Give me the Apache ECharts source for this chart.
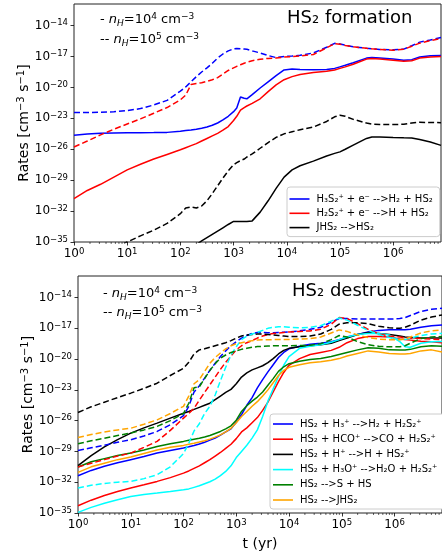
<!DOCTYPE html>
<html><head><meta charset="utf-8">
<script src="https://cdn.jsdelivr.net/npm/echarts@6/dist/echarts.min.js"></script>
<style>html,body{margin:0;padding:0;background:#fff}#c{width:442px;height:559px}</style>
</head><body><div id="c"></div>
<script>
// ---- data: log10(t / yr) grids and log10(rate / cm^-3 s^-1) values ----
const logTimeTop = [0,0.25,0.5,0.75,1,1.25,1.5,1.75,2, 2.1,2.2,2.3,2.4,2.5,2.6,2.7,2.8,2.9, 3.0,3.06,3.13,3.2,3.25,3.35, 3.5,3.65,3.8,3.95, 4.1,4.25,4.5,4.75, 4.9,5.0,5.1,5.25, 5.5,5.6,5.75, 6.0,6.2,6.35,6.5,6.7,6.9];
const formH3S2_n4 = [-24.64,-24.52,-24.44,-24.41,-24.40,-24.39,-24.38,-24.36,-24.24, -24.18,-24.12,-24.05,-23.95,-23.83,-23.67,-23.45,-23.15,-22.8, -22.35,-22.0,-20.92,-21.05,-21.1,-20.7, -20.05,-19.45,-18.85,-18.3, -18.22,-18.25,-18.27,-18.26, -18.15,-18.0,-17.85,-17.6, -17.15,-17.1,-17.15, -17.25,-17.35,-17.3,-17.05,-16.93,-16.9];
const formH2S2_n4 = [-30.79,-30.0,-29.4,-28.7,-28.0,-27.45,-26.95,-26.5,-26.05, -25.85,-25.65,-25.45,-25.2,-24.95,-24.7,-24.45,-24.15,-23.8, -23.2,-22.8,-22.2,-21.95,-21.8,-21.55, -21.1,-20.4,-19.75,-19.25, -18.95,-18.75,-18.55,-18.42, -18.3,-18.15,-18.0,-17.75, -17.25,-17.2,-17.25, -17.35,-17.45,-17.4,-17.15,-17.05,-17.0];
const formJHS2_n4 = [null,null,null,null,null,null,null,null,null, null,null,-35.25,-34.9,-34.58,-34.26,-33.94,-33.62,-33.3, -33.0,-33.0,-33.0,-33.0,-33.0,-32.95, -32.1,-31.0,-29.8,-28.7, -28.0,-27.6,-27.15,-26.65, -26.4,-26.25,-26.0,-25.6, -24.95,-24.8,-24.8, -24.85,-24.88,-24.9,-25.05,-25.3,-25.62];
const formH3S2_n5 = [-22.44,-22.43,-22.41,-22.36,-22.25,-22.05,-21.7,-21.25,-20.35, -19.95,-19.45,-18.95,-18.5,-18.1,-17.65,-17.15,-16.75,-16.45, -16.25,-16.22,-16.24,-16.27,-16.3,-16.45, -16.65,-16.9,-17.1,-17.0, -16.95,-16.88,-16.65,-16.1, -15.72,-15.78,-15.9,-16.05, -16.2,-16.25,-16.32, -16.35,-16.28,-15.95,-15.6,-15.4,-15.15];
const formH2S2_n5 = [-25.78,-25.2,-24.6,-24.05,-23.55,-23.05,-22.5,-21.95,-21.2, -20.75,-19.72,-19.62,-19.55,-19.4,-19.25,-19.05,-18.7,-18.35, -18.1,-17.95,-17.8,-17.65,-17.55,-17.4, -17.26,-17.18,-17.14,-17.05, -17.0,-16.95,-16.8,-16.15, -15.75,-15.8,-15.92,-16.05, -16.2,-16.25,-16.32, -16.38,-16.3,-16.0,-15.7,-15.45,-15.25];
const formJHS2_n5 = [null,null,null,-35.6,-35.0,-34.4,-33.85,-33.2,-32.25, -31.7,-31.6,-31.7,-31.5,-31.0,-30.3,-29.55,-28.8,-28.1, -27.5,-27.3,-27.1,-26.95,-26.75,-26.45, -25.9,-25.35,-24.85,-24.5, -24.3,-24.1,-23.85,-23.3, -22.85,-22.7,-22.8,-23.1, -23.45,-23.55,-23.6, -23.6,-23.57,-23.45,-23.38,-23.4,-23.42];

const logTimeBot = [0,0.25,0.5,0.75,1,1.25,1.5,1.75,2, 2.1,2.2,2.3,2.4,2.5,2.6,2.7,2.8,2.9, 3.0,3.1,3.2,3.3,3.4,3.5,3.6,3.7,3.8,3.9, 4.0, 4.2,4.4,4.6,4.8, 4.95, 5.1,5.3,5.5,5.7,5.9, 6.1,6.2,6.3,6.5,6.7,6.9];
const destH3_n4 = [-31.37,-30.85,-30.45,-30.1,-29.8,-29.5,-29.16,-28.9,-28.67, -28.55,-28.42,-28.28,-28.1,-27.9,-27.7,-27.4,-27.1,-26.8, -26.15,-25.4,-24.5,-23.75,-22.8,-22.0,-21.25,-20.55,-19.85,-19.35, -19.0, -18.75,-18.55,-18.45,-18.3, -18.1, -17.85,-17.6,-17.35,-17.2,-17.15, -17.15,-17.15,-17.1,-16.9,-16.75,-16.67];
const destHCO_n4 = [-34.29,-33.75,-33.3,-32.9,-32.57,-32.25,-31.92,-31.55,-31.11, -30.9,-30.65,-30.4,-30.1,-29.8,-29.45,-29.1,-28.7,-28.3, -27.75,-27.1,-26.7,-26.2,-25.7,-25.0,-24.2,-23.2,-22.2,-21.3, -20.6, -19.95,-19.55,-19.35,-19.15, -18.85, -18.4,-18.0,-17.8,-17.8,-17.85, -18.05,-18.1,-18.15,-18.25,-18.3,-18.4];
const destHp_n4 = [-30.39,-29.4,-28.55,-27.85,-27.21,-26.7,-26.24,-25.75,-25.27, -25.1,-24.9,-24.7,-24.5,-24.3,-23.95,-23.6,-23.25,-22.95, -22.4,-21.75,-21.35,-21.05,-20.85,-20.65,-20.35,-19.95,-19.5,-19.15, -18.95, -18.8,-18.7,-18.6,-18.45, -18.2, -17.95,-17.6,-17.4,-17.5,-17.6, -17.75,-17.85,-17.9,-17.95,-17.95,-17.95];
const destH3O_n4 = [-34.94,-34.45,-34.05,-33.7,-33.39,-33.2,-33.06,-32.9,-32.73, -32.65,-32.5,-32.35,-32.15,-31.95,-31.7,-31.35,-30.95,-30.4, -29.6,-29.0,-28.4,-27.7,-26.9,-25.6,-24.1,-22.9,-21.7,-20.6, -19.75, -18.95,-18.75,-18.6,-18.35, -18.1, -17.85,-17.6,-17.5,-17.5,-17.65, -18.3,-18.8,-18.85,-18.45,-18.3,-18.28];
const destSHS_n4 = [-30.52,-30.0,-29.7,-29.4,-29.16,-28.85,-28.52,-28.25,-28.02, -27.92,-27.82,-27.72,-27.6,-27.45,-27.25,-27.05,-26.8,-26.5, -25.95,-25.1,-24.55,-24.1,-23.7,-23.2,-22.55,-21.9,-21.2,-20.75, -20.45, -20.2,-20.05,-19.95,-19.75, -19.55, -19.35,-19.1,-18.9,-18.95,-19.1, -19.12,-19.12,-19.05,-18.8,-18.7,-18.75];
const destJHS2_n4 = [-31.04,-30.5,-30.15,-29.8,-29.55,-29.2,-28.85,-28.6,-28.41, -28.3,-28.2,-28.08,-27.95,-27.8,-27.6,-27.38,-27.1,-26.75, -26.2,-25.6,-25.1,-24.6,-24.15,-23.6,-23.0,-22.3,-21.6,-21.1, -20.8, -20.55,-20.35,-20.25,-20.12, -19.95, -19.7,-19.45,-19.2,-19.3,-19.45, -19.5,-19.5,-19.45,-19.2,-19.1,-19.3];
const destH3_n5 = [-28.9,-28.65,-28.4,-28.1,-27.86,-27.5,-27.05,-26.4,-25.5, -24.6,-23.2,-22.6,-21.85,-21.1,-20.4,-19.75,-19.2,-18.7, -18.3,-17.95,-17.7,-17.5,-17.4,-17.4,-17.42,-17.42,-17.4,-17.38, -17.35, -17.25,-17.1,-16.9,-16.4, -16.05, -16.05,-16.1,-16.1,-16.1,-16.1, -16.05,-15.95,-15.75,-15.35,-15.15,-15.04];
const destHCO_n5 = [-30.52,-30.15,-29.8,-29.45,-29.16,-28.6,-28.02,-26.95,-25.75, -25.3,-24.8,-24.0,-23.25,-22.5,-21.75,-21.0,-20.3,-19.7, -19.1,-18.7,-18.4,-18.2,-17.95,-17.75,-17.6,-17.5,-17.45,-17.4, -17.35, -17.3,-17.25,-17.1,-16.6, -15.95, -16.05,-16.55,-17.1,-17.55,-17.75, -17.85,-17.9,-17.95,-18.0,-18.05,-18.1];
const destHp_n5 = [-25.2,-24.65,-24.2,-23.75,-23.32,-22.85,-22.35,-21.6,-20.9, -20.3,-19.5,-19.1,-19.0,-18.85,-18.7,-18.55,-18.4,-18.2, -17.95,-17.75,-17.65,-17.6,-17.55,-17.55,-17.6,-17.65,-17.7,-17.75, -17.8, -17.8,-17.75,-17.55,-17.1, -16.6, -16.45,-16.45,-16.55,-16.8,-16.95, -17.0,-16.9,-16.7,-16.2,-15.9,-15.7];
const destH3O_n5 = [-32.57,-32.3,-32.12,-32.0,-31.92,-31.65,-31.27,-30.5,-29.2, -28.2,-27.0,-26.3,-25.3,-24.6,-23.5,-22.1,-20.8,-19.6, -18.8,-18.1,-17.75,-17.55,-17.4,-17.2,-17.0,-16.9,-16.85,-16.85, -16.9, -16.95,-16.9,-16.75,-16.3, -16.0, -16.2,-16.7,-17.2,-17.6,-17.9, -18.1,-18.1,-17.95,-17.7,-17.55,-17.5];
const destSHS_n5 = [-28.26,-27.95,-27.72,-27.45,-27.21,-26.9,-26.56,-26.0,-25.3, -24.3,-22.8,-22.7,-21.9,-21.1,-20.45,-19.9,-19.6,-19.35, -19.2,-19.05,-18.95,-18.85,-18.78,-18.75,-18.72,-18.7,-18.7,-18.7, -18.7, -18.68,-18.65,-18.5,-18.1, -17.7, -17.85,-18.3,-18.6,-18.75,-18.8, -18.8,-18.7,-18.45,-18.0,-17.85,-17.8];
const destJHS2_n5 = [-27.64,-27.35,-27.1,-26.9,-26.74,-26.35,-25.92,-25.3,-24.6, -23.6,-22.4,-22.0,-21.2,-20.4,-19.85,-19.4,-19.0,-18.7, -18.5,-18.4,-18.3,-18.2,-18.15,-18.12,-18.12,-18.1,-18.1,-18.1, -18.08, -18.05,-18.0,-17.85,-17.45, -17.15, -17.3,-17.65,-17.9,-18.05,-18.12, -18.12,-18.05,-17.85,-17.45,-17.25,-17.15];

const formNames = ['H₃S₂⁺ + e⁻ -->H₂ + HS₂', 'H₂S₂⁺ + e⁻ -->H + HS₂', 'JHS₂ -->HS₂'];
const destNames = ['HS₂ + H₃⁺ -->H₂ + H₂S₂⁺', 'HS₂ + HCO⁺ -->CO + H₂S₂⁺', 'HS₂ + H⁺ -->H + HS₂⁺', 'HS₂ + H₃O⁺ -->H₂O + H₂S₂⁺', 'HS₂ -->S + HS', 'HS₂ -->JHS₂'];
const yTickExps = [-35,-32,-29,-26,-23,-20,-17,-14];
const xTickExps = [0,1,2,3,4,5,6];
const X_MAX = 6.9, Y_MIN = -35, Y_MAX = -11.9;

// ---- rendering ----
const FONT = 'DejaVu Sans';
const minorTicks = [];
for (const d of xTickExps) for (let k = 2; k <= 9; k++) { const v = d + Math.log10(k); if (v < X_MAX) minorTicks.push(v); }

const tickRich = {
  b: { fontSize: 12, fontFamily: FONT, color: '#000', verticalAlign: 'middle', lineHeight: 14 },
  sup: { fontSize: 8.5, fontFamily: FONT, color: '#000', verticalAlign: 'top', lineHeight: 8 }
};
function expLabel(v) {
  if (Math.abs(v - Math.round(v)) > 1e-6) return '';
  const n = Math.round(v);
  return '{b|10}{sup|' + String(n).replace('-', '−') + '}';
}

function xAxisCfg(gi, extra) {
  return Object.assign({
    gridIndex: gi, type: 'value', min: 0, max: X_MAX, interval: 1,
    axisLine: { show: false }, splitLine: { show: false },
    axisTick: { show: true, length: 3.5, customValues: xTickExps, lineStyle: { color: '#000', width: 0.8 } },
    axisLabel: { margin: 5, formatter: expLabel, rich: tickRich, customValues: xTickExps }
  }, extra || {});
}
function yAxisCfg(gi) {
  return {
    gridIndex: gi, type: 'value', min: Y_MIN, max: Y_MAX, interval: 3,
    axisLine: { show: false }, splitLine: { show: false },
    axisTick: { show: true, length: 3.5, customValues: yTickExps, lineStyle: { color: '#000', width: 0.8 } },
    axisLabel: { margin: 6, formatter: expLabel, rich: tickRich, customValues: yTickExps },
    name: '{b|Rates [cm}{sup|−3}{b| s}{sup|−1}{b|]}', nameLocation: 'middle', nameGap: 41, nameMoveOverlap: false,
    nameTextStyle: { rich: {
      b: { fontSize: 14, fontFamily: FONT, color: '#000', verticalAlign: 'middle', lineHeight: 17 },
      sup: { fontSize: 10, fontFamily: FONT, color: '#000', verticalAlign: 'top', lineHeight: 10 } } }
  };
}

function line(name, xs, ys, color, dashed, ai) {
  return {
    name, type: 'line', xAxisIndex: ai, yAxisIndex: ai,
    data: xs.map((x, i) => [x, ys[i]]), symbol: 'none', showSymbol: false,
    lineStyle: { color, width: 1.5, type: dashed ? [6, 3] : 'solid' }, itemStyle: { color },
    clip: true, animation: false, connectNulls: false
  };
}
function minorSeries(ai) {
  return {
    type: 'custom', xAxisIndex: ai, yAxisIndex: ai, silent: true, animation: false,
    data: minorTicks.map(v => [v, Y_MIN]),
    renderItem: (params, api) => {
      const p = api.coord([api.value(0), api.value(1)]);
      return { type: 'line', shape: { x1: p[0], y1: p[1], x2: p[0], y2: p[1] + 2 }, style: { stroke: '#000', lineWidth: 0.6 } };
    }
  };
}

const C = { blue: '#0000ff', red: '#ff0000', black: '#000000', cyan: '#00ffff', green: '#008000', orange: '#ffa500' };
const series = [
  line(formNames[0], logTimeTop, formH3S2_n4, C.blue, false, 0),
  line(formNames[1], logTimeTop, formH2S2_n4, C.red, false, 0),
  line(formNames[2], logTimeTop, formJHS2_n4, C.black, false, 0),
  line(formNames[0] + ' n5', logTimeTop, formH3S2_n5, C.blue, true, 0),
  line(formNames[1] + ' n5', logTimeTop, formH2S2_n5, C.red, true, 0),
  line(formNames[2] + ' n5', logTimeTop, formJHS2_n5, C.black, true, 0),
  line(destNames[0], logTimeBot, destH3_n4, C.blue, false, 1),
  line(destNames[1], logTimeBot, destHCO_n4, C.red, false, 1),
  line(destNames[2], logTimeBot, destHp_n4, C.black, false, 1),
  line(destNames[3], logTimeBot, destH3O_n4, C.cyan, false, 1),
  line(destNames[4], logTimeBot, destSHS_n4, C.green, false, 1),
  line(destNames[5], logTimeBot, destJHS2_n4, C.orange, false, 1),
  line(destNames[0] + ' n5', logTimeBot, destH3_n5, C.blue, true, 1),
  line(destNames[1] + ' n5', logTimeBot, destHCO_n5, C.red, true, 1),
  line(destNames[2] + ' n5', logTimeBot, destHp_n5, C.black, true, 1),
  line(destNames[3] + ' n5', logTimeBot, destH3O_n5, C.cyan, true, 1),
  line(destNames[4] + ' n5', logTimeBot, destSHS_n5, C.green, true, 1),
  line(destNames[5] + ' n5', logTimeBot, destJHS2_n5, C.orange, true, 1),
  minorSeries(0), minorSeries(1)
];

const annRich = {
  m: { fontSize: 13, fontFamily: FONT, color: '#000', verticalAlign: 'middle', lineHeight: 16 },
  i: { fontSize: 13, fontFamily: FONT, fontStyle: 'italic', color: '#000', verticalAlign: 'middle', lineHeight: 16 },
  sub: { fontSize: 9, fontFamily: FONT, fontStyle: 'italic', color: '#000', verticalAlign: 'bottom', lineHeight: 11 },
  sup: { fontSize: 9, fontFamily: FONT, color: '#000', verticalAlign: 'top', lineHeight: 9 }
};
function ann(x, y, dash, e) {
  return { type: 'text', left: x, top: y, z: 10,
    style: { text: '{m|' + dash + ' }{i|n}{sub|H}{m|=10}{sup|' + e + '}{m| cm}{sup|−3}', rich: annRich } };
}
function title(x, y, t) {
  return { type: 'text', left: x, top: y, z: 10, style: { text: t, fontSize: 18, fontFamily: FONT, fill: '#000' } };
}

const legendBase = {
  orient: 'vertical', icon: 'rect', itemWidth: 20, itemHeight: 1.6, selectedMode: false,
  backgroundColor: '#fff', borderColor: '#cccccc', borderWidth: 1, borderRadius: 3,
  textStyle: { fontSize: 10, fontFamily: FONT, color: '#000', lineHeight: 11, padding: [0, 0, 0, 2] }
};

const option = {
  backgroundColor: '#fff', animation: false,
  textStyle: { fontFamily: FONT },
  grid: [
    { left: 74, top: 4, width: 367, height: 238, show: true, borderColor: '#222', borderWidth: 1, backgroundColor: 'transparent' },
    { left: 78, top: 276, width: 364, height: 237, show: true, borderColor: '#222', borderWidth: 1, backgroundColor: 'transparent' }
  ],
  xAxis: [
    xAxisCfg(0),
    xAxisCfg(1, { name: 't (yr)', nameLocation: 'middle', nameGap: 24, nameMoveOverlap: false, nameTextStyle: { fontSize: 14, fontFamily: FONT, color: '#000' } })
  ],
  yAxis: [yAxisCfg(0), yAxisCfg(1)],
  legend: [
    Object.assign({}, legendBase, { data: formNames, left: 287, top: 187, itemGap: 3.3, padding: [6.5, 7, 3.5, 2.5] }),
    Object.assign({}, legendBase, { data: destNames, left: 270, top: 414, itemGap: 4.2, padding: [4.5, 7, 3.5, 3] })
  ],
  graphic: [
    title(287, 9, 'HS₂ formation'),
    title(292, 282, 'HS₂ destruction'),
    ann(100, 12, '-', '4'), ann(100, 32, '--', '5'),
    ann(103, 286, '-', '4'), ann(103, 305, '--', '5')
  ],
  series
};
const chart = echarts.init(document.getElementById('c'), null, { renderer: 'canvas' });
chart.setOption(option);
</script></body></html>
